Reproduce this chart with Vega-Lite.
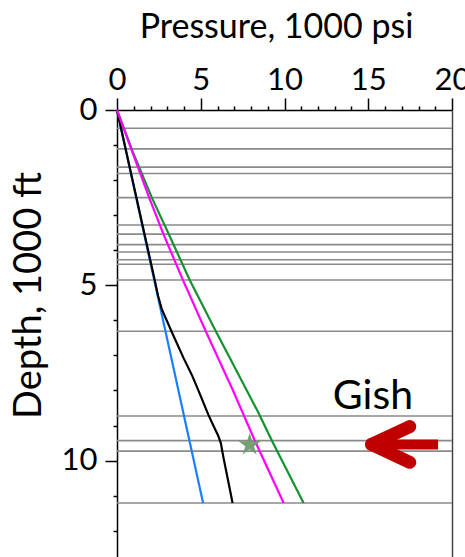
{
  "$schema": "https://vega.github.io/schema/vega-lite/v6.json",
  "autosize": {"type": "none"},
  "padding": {"left": 117, "top": 110, "right": 13, "bottom": 0},
  "width": 335,
  "height": 447,
  "background": "white",
  "config": {
    "view": {"stroke": null},
    "font": "Lato",
    "axis": {"domainColor": "#000", "domainWidth": 1.5, "tickColor": "#000", "tickWidth": 1.5, "grid": false, "labelColor": "#000", "titleColor": "#000", "labelFont": "Lato", "titleFont": "Lato", "titleFontWeight": "normal", "labelOverlap": false, "labelFlush": false}
  },
  "resolve": {"axis": {"x": "independent", "y": "independent"}},
  "layer": [
    {
      "data": {"values": [
        {"depth": 0.52}, {"depth": 1.11}, {"depth": 1.63}, {"depth": 1.81}, {"depth": 2.5},
        {"depth": 3.28}, {"depth": 3.54}, {"depth": 3.84}, {"depth": 4.05}, {"depth": 4.27},
        {"depth": 4.4}, {"depth": 4.85}, {"depth": 6.31}, {"depth": 8.73}, {"depth": 9.43},
        {"depth": 9.73}, {"depth": 11.21}
      ]},
      "mark": {"type": "rule", "color": "#8a8a8a", "strokeWidth": 1.6},
      "encoding": {
        "y": {"field": "depth", "type": "quantitative",
          "scale": {"domain": [0, 12.75], "reverse": true, "nice": false, "zero": false},
          "axis": {
            "orient": "left",
            "values": [0, 5, 10],
            "tickSize": 12,
            "labelFontSize": 31,
            "labelPadding": 8,
            "title": "Depth, 1000 ft",
            "titleFontSize": 38,
            "titleAngle": -90,
            "titleAlign": "center",
            "titleBaseline": "alphabetic",
            "titleX": -77,
            "titleY": 185
          }
        }
      }
    },
    {
      "data": {"values": [
        {"series": "hydro", "depth": 0, "pressure": 0},
        {"series": "hydro", "depth": 11.21, "pressure": 5.14},
        {"series": "frac", "depth": 0, "pressure": 0},
        {"series": "frac", "depth": 1.2, "pressure": 0.95},
        {"series": "frac", "depth": 2.5, "pressure": 2.08},
        {"series": "frac", "depth": 3.55, "pressure": 3.1},
        {"series": "frac", "depth": 4.85, "pressure": 4.34},
        {"series": "frac", "depth": 6.31, "pressure": 5.9},
        {"series": "frac", "depth": 7.07, "pressure": 6.73},
        {"series": "frac", "depth": 8.64, "pressure": 8.45},
        {"series": "frac", "depth": 9.49, "pressure": 9.31},
        {"series": "frac", "depth": 11.21, "pressure": 11.14},
        {"series": "pore", "depth": 0, "pressure": 0},
        {"series": "pore", "depth": 4.85, "pressure": 2.25},
        {"series": "pore", "depth": 5.3, "pressure": 2.45},
        {"series": "pore", "depth": 5.69, "pressure": 2.68},
        {"series": "pore", "depth": 6.31, "pressure": 3.25},
        {"series": "pore", "depth": 7.07, "pressure": 3.97},
        {"series": "pore", "depth": 7.59, "pressure": 4.5},
        {"series": "pore", "depth": 8.07, "pressure": 4.92},
        {"series": "pore", "depth": 8.69, "pressure": 5.45},
        {"series": "pore", "depth": 9.05, "pressure": 5.8},
        {"series": "pore", "depth": 9.3, "pressure": 6.05},
        {"series": "pore", "depth": 9.5, "pressure": 6.2},
        {"series": "pore", "depth": 9.9, "pressure": 6.35},
        {"series": "pore", "depth": 10.54, "pressure": 6.62},
        {"series": "pore", "depth": 11.21, "pressure": 6.9},
        {"series": "shmin", "depth": 0, "pressure": 0},
        {"series": "shmin", "depth": 1.2, "pressure": 0.92},
        {"series": "shmin", "depth": 2.5, "pressure": 1.92},
        {"series": "shmin", "depth": 3.55, "pressure": 2.78},
        {"series": "shmin", "depth": 4.83, "pressure": 3.92},
        {"series": "shmin", "depth": 6.31, "pressure": 5.3},
        {"series": "shmin", "depth": 7.97, "pressure": 6.9},
        {"series": "shmin", "depth": 9.4, "pressure": 8.2},
        {"series": "shmin", "depth": 11.21, "pressure": 9.95}
      ]},
      "mark": {"type": "line", "strokeWidth": 2.2},
      "encoding": {
        "x": {"field": "pressure", "type": "quantitative",
          "scale": {"domain": [0, 20], "nice": false, "zero": false},
          "axis": {
            "orient": "top",
            "values": [0, 5, 10, 15, 20],
            "tickSize": 12,
            "labelFontSize": 31,
            "labelPadding": 2,
            "title": "Pressure, 1000 psi",
            "titleFontSize": 34,
            "titleAlign": "center",
            "titleBaseline": "alphabetic",
            "titleAngle": 0,
            "titleX": 159,
            "titleY": -73
          }
        },
        "y": {"field": "depth", "type": "quantitative",
          "axis": {"orient": "left", "values": [1, 2, 3, 4, 6, 7, 8, 9, 11, 12], "tickSize": 4, "labels": false, "domain": false, "title": null}
        },
        "color": {"field": "series", "type": "nominal",
          "scale": {"domain": ["hydro", "frac", "pore", "shmin"], "range": ["#1a7fff", "#13922f", "#000000", "#ff00ff"]},
          "legend": null
        }
      }
    },
    {
      "data": {"values": [{"pressure": 7.92, "depth": 9.55}]},
      "mark": {"type": "point", "shape": "M0,-1L0.2245,-0.309L0.951,-0.309L0.363,0.118L0.588,0.809L0,0.382L-0.588,0.809L-0.363,0.118L-0.951,-0.309L-0.2245,-0.309Z", "filled": true, "color": "#6b9a6b", "size": 560, "opacity": 0.95},
      "encoding": {
        "x": {"field": "pressure", "type": "quantitative",
          "axis": {"orient": "top", "values": [1, 2, 3, 4, 6, 7, 8, 9, 11, 12, 13, 14, 16, 17, 18, 19], "tickSize": 4, "labels": false, "domain": false, "title": null}
        },
        "y": {"field": "depth", "type": "quantitative", "axis": null}
      }
    },
    {
      "data": {"values": [{"pressure": 15.28, "depth": 8.18, "label": "Gish"}]},
      "mark": {"type": "text", "fontSize": 41, "align": "center", "color": "#000"},
      "encoding": {
        "x": {"field": "pressure", "type": "quantitative", "axis": null},
        "y": {"field": "depth", "type": "quantitative", "axis": null},
        "text": {"field": "label"}
      }
    },
    {
      "data": {"values": [
        {"pressure": 15.4, "depth": 9.54},
        {"pressure": 19.17, "depth": 9.54}
      ]},
      "mark": {"type": "line", "color": "#c00000", "strokeWidth": 10},
      "encoding": {
        "x": {"field": "pressure", "type": "quantitative", "axis": null},
        "y": {"field": "depth", "type": "quantitative",
          "axis": {"orient": "right", "ticks": false, "labels": false, "title": null, "domainColor": "#444"}
        }
      }
    },
    {
      "data": {"values": [
        {"arm": "top", "pressure": 15.2, "depth": 9.54},
        {"arm": "top", "pressure": 17.48, "depth": 9.03},
        {"arm": "bottom", "pressure": 15.2, "depth": 9.54},
        {"arm": "bottom", "pressure": 17.48, "depth": 10.05}
      ]},
      "mark": {"type": "line", "color": "#c00000", "strokeWidth": 13, "strokeCap": "round"},
      "encoding": {
        "x": {"field": "pressure", "type": "quantitative", "axis": null},
        "y": {"field": "depth", "type": "quantitative", "axis": null},
        "detail": {"field": "arm"}
      }
    }
  ]
}
